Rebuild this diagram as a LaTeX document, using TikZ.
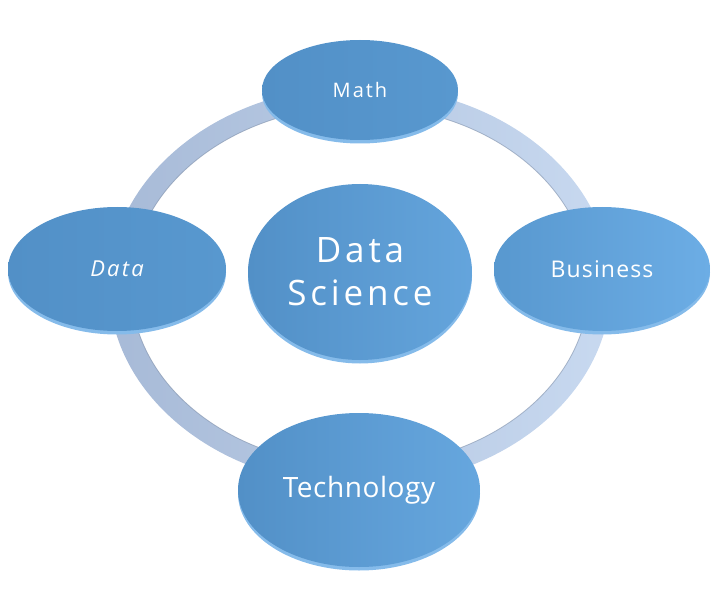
\documentclass[tikz,border=0pt]{standalone}
\usepackage{fontspec}
\setmainfont{Open Sans}
\usetikzlibrary{shapes.geometric}
\definecolor{ringdark}{HTML}{A7BAD7}
\definecolor{ringlight}{HTML}{C8D9F0}
\definecolor{ringedge}{HTML}{7F90AA}
\definecolor{rimblue}{HTML}{85BBEA}
\definecolor{bluedark}{HTML}{5290C7}
\definecolor{bluemid}{HTML}{5898CF}
\definecolor{bluelight}{HTML}{6CADE5}
\newcommand{\lbl}[2]{\fontsize{#1}{#1}\selectfont\addfontfeatures{LetterSpace=#2}}
\tikzset{
  bubble/.style={ellipse, inner sep=0pt, draw=none, text=white, align=center,
    preaction={fill=rimblue, transform canvas={yshift=-3.5pt}}},
  ring/.style={even odd rule, left color=ringdark, right color=ringlight},
}

\begin{document}
\begin{tikzpicture}[x=1pt,y=1pt,yscale=-1]
  \useasboundingbox (0,0) rectangle (726,607);

  % Ring
  \coordinate (hub) at (360,286);
  \shade[ring] (hub) ellipse [x radius=251, y radius=200]
               (hub) ellipse [x radius=229, y radius=180];
  \draw[ringedge, line width=0.8, opacity=0.6] (hub) ellipse [x radius=229, y radius=180];

  % Outer bubbles
  \node[bubble, minimum width=196, minimum height=100, left color=bluedark, right color=bluemid,
        font=\lbl{20}{10}] (math) at (360,90) {Math};
  \node[bubble, minimum width=218, minimum height=124, left color=bluedark, right color=bluemid,
        font=\lbl{22}{10}\itshape] (data) at (117,269) {Data};
  \node[bubble, minimum width=216, minimum height=124, left color=bluemid, right color=bluelight,
        font=\lbl{23}{5}] (business) at (602,269) {Business};
  \node[bubble, minimum width=242, minimum height=154, left color=bluedark, right color=bluelight!70!bluemid,
        font=\lbl{28}{2}] (tech) at (359,490) {Technology};

  % Centre
  \node[bubble, minimum width=224, minimum height=176, left color=bluedark, right color=bluelight!60!bluemid,
        font=\fontsize{35}{43}\selectfont\addfontfeatures{LetterSpace=11}] (ds) at (360,272) {Data\\Science};

\end{tikzpicture}
\end{document}
